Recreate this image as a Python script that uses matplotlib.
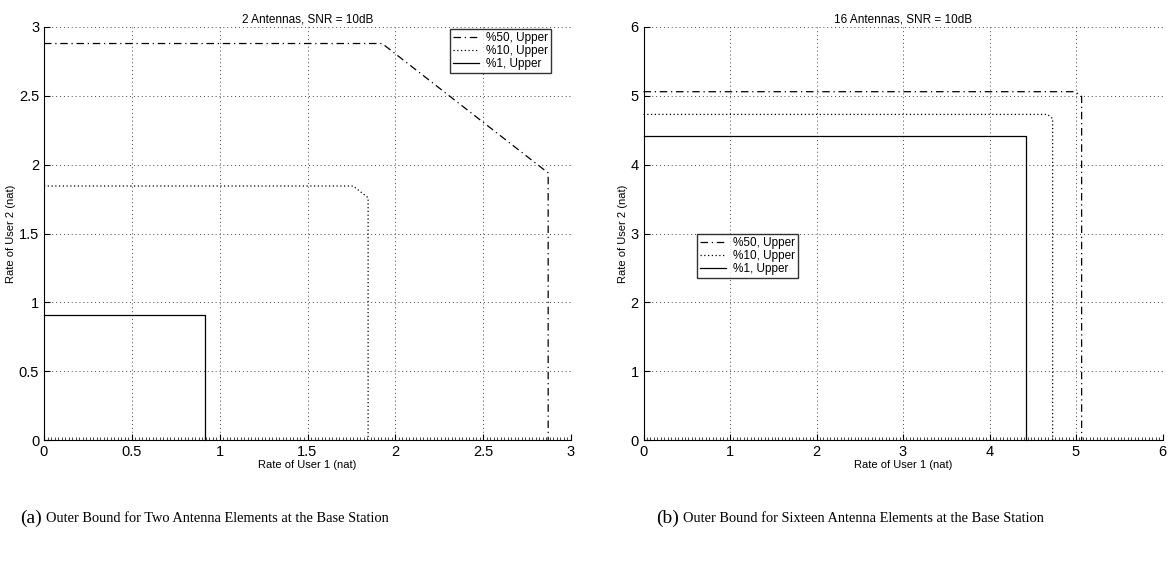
import matplotlib
matplotlib.use("Agg")
import matplotlib.pyplot as plt
from matplotlib.ticker import MultipleLocator

plt.rcParams['font.family'] = ['Liberation Sans', 'DejaVu Sans']

labels = ['%50, Upper', '%10, Upper', '%1, Upper']
styles = [(0, (6, 3, 1, 3)), (0, (1, 2)), '-']

# 2 antennas: region corners (rate user 1, rate user 2)
a_x50 = [0, 1.925, 2.87, 2.87]
a_y50 = [2.88, 2.88, 1.94, 0]
a_x10 = [0, 1.76, 1.845, 1.845]
a_y10 = [1.845, 1.845, 1.76, 0]
a_x1 = [0, 0.915, 0.915]
a_y1 = [0.91, 0.91, 0]

# 16 antennas
b_x50 = [0, 4.99, 5.065, 5.065]
b_y50 = [5.06, 5.06, 4.99, 0]
b_x10 = [0, 4.67, 4.73, 4.73]
b_y10 = [4.73, 4.73, 4.67, 0]
b_x1 = [0, 4.42, 4.42]
b_y1 = [4.42, 4.42, 0]

fig = plt.figure(figsize=(11.7, 5.65), dpi=100)
ax1 = fig.add_axes([44/1170, 125/565, 527/1170, 413/565])
ax2 = fig.add_axes([643.5/1170, 125/565, 519/1170, 413/565])


def setup(ax, top, step, minor, title):
    ax.set_xlim(0, top)
    ax.set_ylim(0, top)
    ax.xaxis.set_major_locator(MultipleLocator(step))
    ax.yaxis.set_major_locator(MultipleLocator(step))
    ax.xaxis.set_minor_locator(MultipleLocator(minor))
    ax.grid(True, linestyle=(0, (1, 3)), color='#444444', linewidth=0.7)
    ax.spines['top'].set_visible(False)
    ax.spines['right'].set_visible(False)
    ax.tick_params(direction='in', length=4, labelsize=10.5, width=0.8)
    ax.tick_params(which='minor', direction='in', length=2, width=0.5)
    ax.set_title(title, fontsize=8.5, pad=3)
    ax.set_xlabel('Rate of User 1 (nat)', fontsize=8, labelpad=1)
    ax.set_ylabel('Rate of User 2 (nat)', fontsize=8, labelpad=2)
    fmt = lambda v, p: ('%g' % v)
    ax.xaxis.set_major_formatter(fmt)
    ax.yaxis.set_major_formatter(fmt)


setup(ax1, 3, 0.5, 0.02, '2 Antennas, SNR = 10dB')
setup(ax2, 6, 1, 0.04, '16 Antennas, SNR = 10dB')

for (xs, ys), ls, lab in zip([(a_x50, a_y50), (a_x10, a_y10), (a_x1, a_y1)], styles, labels):
    ax1.plot(xs, ys, linestyle=ls, color='black', linewidth=0.9, label=lab, clip_on=False)
for (xs, ys), ls, lab in zip([(b_x50, b_y50), (b_x10, b_y10), (b_x1, b_y1)], styles, labels):
    ax2.plot(xs, ys, linestyle=ls, color='black', linewidth=0.9, label=lab, clip_on=False)

leg_kw = dict(fontsize=8.5, frameon=True, fancybox=False, edgecolor='black',
              handlelength=2.2, handletextpad=0.6, borderpad=0.25, labelspacing=0.1,
              borderaxespad=0.0)
l1 = ax1.legend(loc='upper right', bbox_to_anchor=(0.962, 0.995), **leg_kw)
l1.get_frame().set_linewidth(1.0)
l2 = ax2.legend(loc='upper left', bbox_to_anchor=(0.103, 0.499), **leg_kw)
l2.get_frame().set_linewidth(1.0)

fig.text(20/1170, 1 - 518/565, '(a)', family='Liberation Serif', fontsize=14, va='center')
fig.text(46/1170, 1 - 519/565, 'Outer Bound for Two Antenna Elements at the Base Station',
         family='Liberation Serif', fontsize=10.4, va='center')
fig.text(656/1170, 1 - 518/565, '(b)', family='Liberation Serif', fontsize=14, va='center')
fig.text(683/1170, 1 - 519/565, 'Outer Bound for Sixteen Antenna Elements at the Base Station',
         family='Liberation Serif', fontsize=10.4, va='center')

fig.savefig('out.png', dpi=100)
